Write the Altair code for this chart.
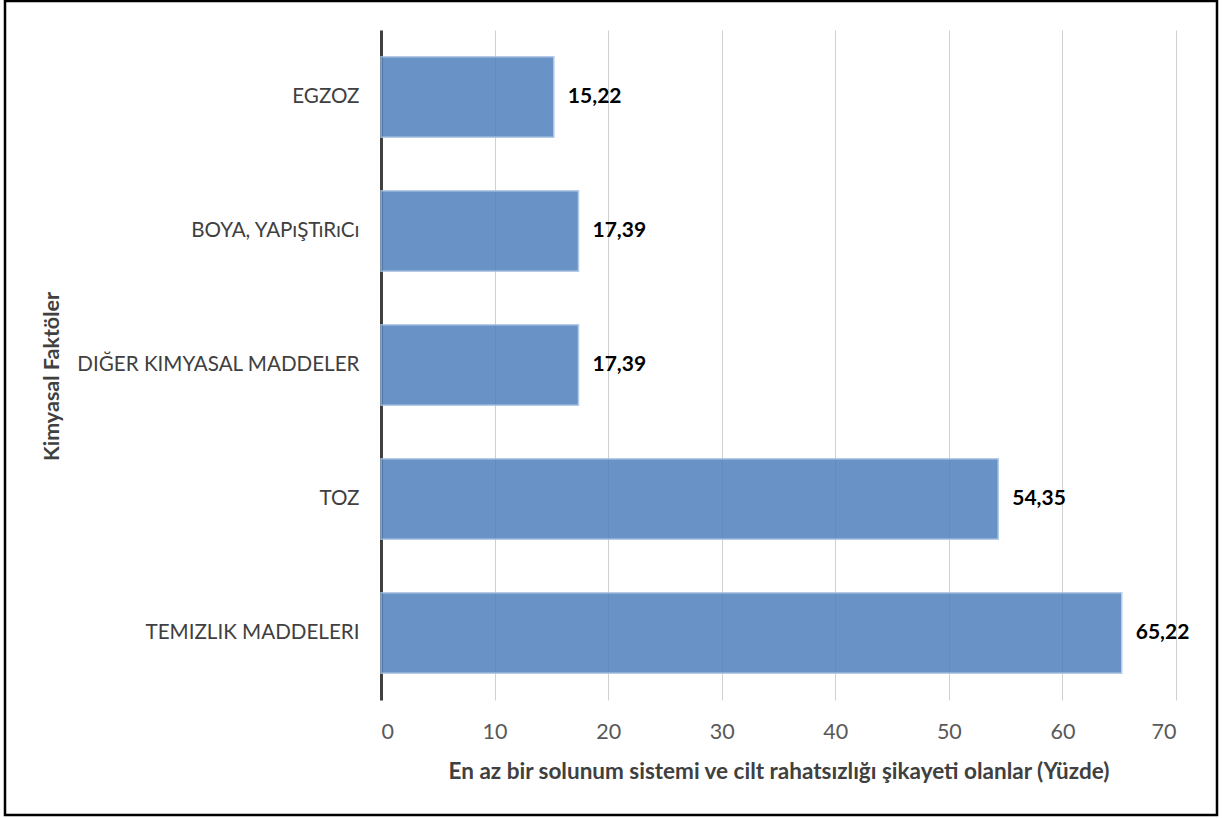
import altair as alt
import pandas as pd

categories = ["EGZOZ", "BOYA, YAPıŞTıRıCı", "DIĞER KIMYASAL MADDELER", "TOZ", "TEMIZLIK MADDELERI"]
values = [15.22, 17.39, 17.39, 54.35, 65.22]
labels = ["15,22", "17,39", "17,39", "54,35", "65,22"]
x_ticks = [0, 10, 20, 30, 40, 50, 60, 70]

df = pd.DataFrame({"cat": categories, "val": values, "lab": labels})

FONT = "Lato"

base = alt.Chart(df)

bars = base.mark_bar(color="#4F81BD", opacity=0.85, stroke="#A7C2E3", strokeWidth=1.5).encode(
    x=alt.X("val:Q",
            scale=alt.Scale(domain=[0, 70], nice=False, zero=True),
            axis=alt.Axis(values=x_ticks, title="En az bir solunum sistemi ve cilt rahatsızlığı şikayeti olanlar (Yüzde)",
                          grid=True, gridColor="#D0D0D0", gridWidth=1, domain=False, ticks=False,
                          labelFont=FONT, labelFontSize=21.5, labelColor="#595959", labelPadding=21,
                          titleFont=FONT, titleFontSize=22.5, titleFontWeight="bold", titleColor="#404040",
                          titleY=71, titleBaseline="middle")),
    y=alt.Y("cat:N", sort=categories,
            scale=alt.Scale(paddingInner=0.4, paddingOuter=0.2),
            axis=alt.Axis(title="Kimyasal Faktöler", ticks=False, domain=True, domainColor="#404040",
                          domainWidth=3, grid=False,
                          labelFont=FONT, labelFontSize=20.6, labelColor="#404040", labelPadding=22,
                          labelLimit=400,
                          titleFont=FONT, titleFontSize=21.5, titleFontWeight="bold", titleColor="#404040",
                          titleAngle=-90, titleX=-329, titleY=346, titleAlign="center",
                          titleBaseline="middle")),
)

text = base.mark_text(align="left", baseline="middle", dx=14, font=FONT, fontSize=21,
                      fontWeight="bold", color="#000000").encode(
    x="val:Q",
    y=alt.Y("cat:N", sort=categories),
    text="lab:N",
)

border = alt.Chart(pd.DataFrame({"a": [0]})).mark_rect(
    fillOpacity=0, stroke="#000000", strokeWidth=2.5
).encode(
    x=alt.value(-376), x2=alt.value(836), y=alt.value(-29), y2=alt.value(785)
)

chart = alt.layer(bars, text, border).properties(
    width=795, height=670,
    autosize=alt.AutoSizeParams(type="none"),
    padding={"left": 381, "top": 30, "right": 46, "bottom": 118},
    background="white",
).configure_view(stroke=None)

chart.save("out.html", embed_options={"renderer": "svg", "actions": False})
